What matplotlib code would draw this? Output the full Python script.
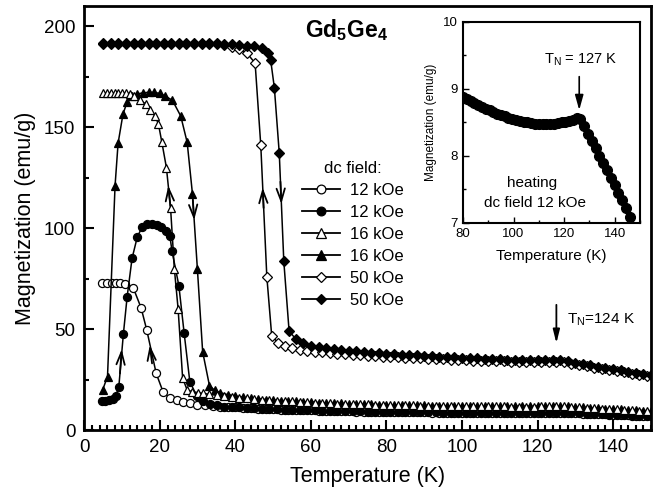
import matplotlib
matplotlib.use('Agg')
import matplotlib.pyplot as plt
from matplotlib.lines import Line2D
from matplotlib.ticker import MultipleLocator

# shared temperature grids for the high-T tails (K)
t_even = [30, 32, 34, 36, 38, 40, 42, 44, 46, 48, 50, 52, 54, 56, 58, 60, 62, 64, 66, 68,
          70, 72, 74, 76, 78, 80, 82, 84, 86, 88, 90, 92, 94, 96, 98, 100, 102, 104, 106, 108,
          110, 112, 114, 116, 118, 120, 122, 124, 126, 128, 130, 132, 134, 136, 138, 140, 142,
          144, 146, 148, 150]
t_odd = [29, 31, 33, 35, 37, 39, 41, 43, 45, 47, 49, 51, 53, 55, 57, 59, 61, 63, 65, 67,
         69, 71, 73, 75, 77, 79, 81, 83, 85, 87, 89, 91, 93, 95, 97, 99, 101, 103, 105, 107,
         109, 111, 113, 115, 117, 119, 121, 123, 125, 127, 129, 131, 133, 135, 137, 139, 141,
         143, 145, 147, 149]

# 12 kOe, open circles
t_c12o = [4.6, 5.9, 7.2, 8.4, 9.5, 10.8, 12.9, 15.0, 16.5, 19.0, 20.8, 22.6, 24.4, 26.1,
          27.9, 29.7] + t_even[1:]
m_c12o = [73, 73, 73, 73, 73, 72.5, 70.5, 60.5, 49.5, 28, 19, 15.8, 15, 14, 13.3, 12.6,
          12.15, 11.85, 11.6, 11.4, 11.2, 11.0, 10.8, 10.6, 10.45, 10.3, 10.15, 10.0, 9.9, 9.8,
          9.7, 9.6, 9.5, 9.4, 9.3, 9.22, 9.15, 9.08, 9.01, 8.95, 8.88,
          8.84, 8.79, 8.75, 8.71, 8.68, 8.65, 8.62, 8.59, 8.57, 8.54, 8.52, 8.51, 8.5, 8.49,
          8.48, 8.48, 8.48, 8.48, 8.49, 8.5, 8.52, 8.54, 8.56,
          8.44, 8.3, 8.15, 8.0, 7.86, 7.71, 7.56, 7.41, 7.26, 7.11, 6.96, 6.81]

# 12 kOe, filled circles
t_c12f = [4.6, 5.5, 6.5, 7.5, 8.3, 9.1, 10.3, 11.3, 12.6, 14.0, 15.3, 16.6, 17.9, 19.2, 20.4,
          21.5, 22.6, 23.2, 25.0, 26.4, 27.9, 29.7, 31.5, 33.3, 35] + t_odd[4:]
m_c12f = [14.5, 14.5, 15, 15.5, 17, 21.5, 47.5, 66, 85, 95.7, 100.6, 101.8, 102, 101.7, 100.5,
          98.4, 96.3, 88.5, 71.5, 48, 24, 17, 14.3, 13.0, 12.2,
          11.6, 11.4, 11.2, 11.0, 10.8, 10.6, 10.45, 10.3, 10.15, 10.05,
          9.95, 9.85, 9.75, 9.65, 9.55, 9.45, 9.35, 9.28, 9.2, 9.12,
          9.05, 8.98, 8.92, 8.87, 8.82, 8.78, 8.74, 8.71, 8.68, 8.65,
          8.62, 8.59, 8.57, 8.55, 8.54, 8.53, 8.52, 8.52, 8.52, 8.52,
          8.53, 8.54, 8.55, 8.57, 8.6, 8.52, 8.38, 8.23, 8.08, 7.93,
          7.78, 7.63, 7.48, 7.33, 7.18, 7.03, 6.88]

# 16 kOe, open triangles
t_t16o = [5, 6, 7, 8, 9, 10, 11, 12, 13.2, 14.7, 16.2, 17.4, 18.7, 19.6, 20.5, 21.7, 22.8,
          23.8, 24.8, 26.0, 27.2, 28.5, 30, 31.5, 33, 35] + t_odd[4:]
m_t16o = [167, 167, 167, 167, 167, 167, 167, 166.5, 165.5, 163.5, 161.5, 158.5, 155.5, 151.5,
          142.5, 130, 110, 80, 60, 25.7, 19.8, 19.0, 18.5, 18.1, 17.7, 17.2,
          16.8, 16.4, 16.0, 15.7, 15.4, 15.1, 14.8, 14.6, 14.4, 14.2,
          14.0, 13.8, 13.6, 13.4, 13.25, 13.1, 13.0, 12.9, 12.8, 12.7,
          12.6, 12.5, 12.4, 12.3, 12.25, 12.2, 12.1, 12.05, 12.0, 11.95,
          11.9, 11.85, 11.8, 11.75, 11.7, 11.7, 11.65, 11.65, 11.6, 11.6,
          11.6, 11.6, 11.65, 11.7, 11.75, 11.65, 11.45, 11.25, 11.05, 10.85,
          10.65, 10.45, 10.25, 10.05, 9.85, 9.65, 9.45]

# 16 kOe, filled triangles
t_t16f = [4.8, 6.1, 8.1, 8.9, 10.2, 11.3, 12.6, 14.0, 15.5, 17.0, 18.5, 20.0, 21.3, 23.3,
          25.5, 27.2, 28.6, 29.9, 31.3, 33.1, 34.5] + t_even[3:]
m_t16f = [19.8, 26.5, 121, 142, 156.5, 162.5, 165.5, 166.5, 167, 167.3, 167.2, 166.7, 165.5,
          163.3, 155.5, 142.5, 117, 80, 38.8, 22, 19.6,
          18.4, 17.5, 16.8, 16.2, 15.8, 15.4, 15.1, 14.8, 14.6, 14.4,
          14.2, 14.0, 13.8, 13.6, 13.45, 13.3, 13.15, 13.0, 12.9, 12.8,
          12.7, 12.6, 12.5, 12.4, 12.35, 12.3, 12.2, 12.15, 12.1, 12.05,
          12.0, 11.95, 11.9, 11.85, 11.8, 11.8, 11.75, 11.75, 11.7, 11.7,
          11.7, 11.7, 11.75, 11.8, 11.85, 11.85, 11.65, 11.45, 11.25, 11.05,
          10.85, 10.65, 10.45, 10.25, 10.05, 9.85, 9.65, 9.45]

# 50 kOe, open diamonds
t_d50o = [5, 7, 9, 11, 13, 15, 17, 19, 21, 23, 25, 27, 29, 31, 33, 35,
          37, 39, 41, 43, 45.2, 46.7, 48.3, 49.6, 51.3] + t_odd[12:]
m_d50o = [191.3, 191.3, 191.3, 191.3, 191.3, 191.3, 191.3, 191.3, 191.3, 191.3, 191.3, 191.3,
          191.3, 191.3, 191.3, 191.3,
          190.5, 189.7, 188.6, 186.8, 181.7, 141, 76, 46.5, 43.3,
          41.5, 40.4, 39.7, 39.2, 38.8, 38.4, 38.1, 37.8, 37.5, 37.3,
          37.0, 36.8, 36.6, 36.4, 36.2, 36.0, 35.8, 35.6, 35.5, 35.3,
          35.1, 35.0, 34.8, 34.7, 34.5, 34.4, 34.3, 34.2, 34.1, 34.0,
          33.9, 33.8, 33.8, 33.7, 33.7, 33.8, 33.8, 33.5, 32.9, 32.2,
          31.6, 30.9, 30.3, 29.7, 29.1, 28.5, 27.9, 27.4, 26.9]

# 50 kOe, filled diamonds
t_d50f = [5, 7, 9, 11, 13, 15, 17, 19, 21, 23, 25, 27, 29, 31, 33, 35,
          37, 39, 41, 43, 45, 47, 48.6, 49.3, 50.3, 51.6, 52.8, 54.2] + t_even[13:]
m_d50f = [191.5, 191.5, 191.5, 191.5, 191.5, 191.5, 191.5, 191.5, 191.5, 191.5, 191.5, 191.5,
          191.5, 191.5, 191.5, 191.5,
          191.2, 191.0, 190.7, 190.4, 190.0, 189.2, 186.6, 183.5, 169.5, 137, 83.5, 49,
          45.0, 43.0, 41.8, 41.0, 40.4, 39.9, 39.5, 39.2, 38.9, 38.6,
          38.3, 38.0, 37.8, 37.6, 37.4, 37.2, 37.0, 36.8, 36.6, 36.4,
          36.2, 36.0, 35.8, 35.6, 35.5, 35.3, 35.2, 35.0, 34.9, 34.8,
          34.7, 34.6, 34.6, 34.6, 34.7, 34.6, 34.0, 33.3, 32.6, 32.0,
          31.3, 30.7, 30.1, 29.5, 28.9, 28.3, 27.8, 27.2]

# inset: heating in 12 kOe
t_in = [80, 81.5, 83, 84.5, 86, 87.5, 89, 90.5, 92, 93.5, 95, 96.5, 98, 99.5, 101, 102.5,
        104, 105.5, 107, 108.5, 110, 111.5, 113, 114.5, 116, 117.5, 119, 120.5, 122, 123.5,
        125, 126.5, 128, 129.5, 131, 132.5, 134, 135.5, 137, 138.5, 140, 141.5, 143, 144.5, 146]
m_in = [8.88, 8.85, 8.82, 8.79, 8.76, 8.73, 8.70, 8.68, 8.65, 8.63,
        8.61, 8.59, 8.57, 8.55, 8.53, 8.52, 8.51, 8.50, 8.49, 8.48,
        8.48, 8.48, 8.48, 8.48, 8.48, 8.49, 8.50, 8.51, 8.52, 8.54,
        8.56, 8.55, 8.44, 8.33, 8.22, 8.11, 8.00, 7.89, 7.78, 7.67,
        7.56, 7.45, 7.34, 7.22, 7.08]

labels = ['12 kOe', '12 kOe', '16 kOe', '16 kOe', '50 kOe', '50 kOe']

plt.rcParams['font.family'] = ['Liberation Sans', 'DejaVu Sans']
plt.rcParams['mathtext.fontset'] = 'custom'
plt.rcParams['mathtext.rm'] = 'Liberation Sans'
plt.rcParams['mathtext.bf'] = 'Liberation Sans:bold'
plt.rcParams['mathtext.default'] = 'regular'

fig = plt.figure(figsize=(6.6, 4.97), dpi=100)
ax = fig.add_axes([0.128, 0.1348, 0.858, 0.853])

# (x, y, marker, size, face)
series = [
    (t_c12o, m_c12o, 'o', 5.8, 'white'),
    (t_c12f, m_c12f, 'o', 5.8, 'black'),
    (t_t16f, m_t16f, '^', 6.3, 'black'),
    (t_t16o, m_t16o, '^', 6.3, 'white'),
    (t_d50o, m_d50o, 'D', 5.0, 'white'),
    (t_d50f, m_d50f, 'D', 5.0, 'black'),
]
for x, y, mk, ms, fc in series:
    ax.plot(x, y, color='black', lw=1.1, marker=mk, ms=ms, mfc=fc, mec='black', mew=0.9)

ax.set_xlim(0, 150)
ax.set_ylim(0, 210)
ax.xaxis.set_major_locator(MultipleLocator(20))
ax.xaxis.set_minor_locator(MultipleLocator(2))
ax.yaxis.set_major_locator(MultipleLocator(50))
ax.yaxis.set_minor_locator(MultipleLocator(25))
ax.tick_params(which='both', direction='in', top=False, right=False, width=1.5,
               labelsize=13.5, pad=6.5)
ax.tick_params(which='major', length=7)
ax.tick_params(which='minor', length=3.5)
for sp in ax.spines.values():
    sp.set_linewidth(2)
ax.set_xlabel('Temperature (K)', fontsize=15.5, labelpad=7)
ax.set_ylabel('Magnetization (emu/g)', fontsize=15.5, labelpad=6)

# legend
handles = []
for (x, y, mk, ms, fc), lab in zip([series[0], series[1], series[3], series[2],
                                    series[4], series[5]], labels):
    handles.append(Line2D([], [], color='black', lw=1.3, marker=mk, ms=ms + 0.5, mfc=fc,
                          mec='black', mew=0.9, label=lab))
leg = ax.legend(handles=handles, title='dc field:', loc='upper left',
                bbox_to_anchor=(0.384, 0.635), frameon=False, fontsize=12,
                title_fontsize=12, handlelength=2.3, handletextpad=0.6,
                labelspacing=0.42, borderpad=0, borderaxespad=0)

ax.text(58.5, 198, r'$\mathbf{Gd_5Ge_4}$', fontsize=16.5, ha='left', va='center')

# direction arrows along the branches
v_arrow = dict(arrowstyle='->,head_length=0.9,head_width=0.3', lw=1.3, color='black',
               shrinkA=0, shrinkB=0)
arrows = [((9.85, 40), (9.4, 28)),
          ((17.3, 42), (17.9, 33)),
          ((22.2, 121), (22.75, 111)),
          ((29.05, 104), (28.7, 114)),
          ((47.2, 120), (47.45, 110)),
          ((52.15, 112), (51.9, 123))]
for tip, tail in arrows:
    ax.annotate('', xy=tip, xytext=tail, arrowprops=v_arrow)

ax.annotate('', xy=(125, 43), xytext=(125, 62),
            arrowprops=dict(arrowstyle='-|>,head_length=0.8,head_width=0.2', lw=1.3,
                            color='black', shrinkA=0, shrinkB=0))
ax.text(127.7, 54.6, r'T$_N$=124 K', fontsize=11, ha='left', va='center')

# inset
axin = fig.add_axes([0.7015, 0.5519, 0.268, 0.4044])
axin.plot(t_in, m_in, color='black', lw=0.8, marker='o', ms=7, mfc='black', mec='black')
axin.set_xlim(80, 150)
axin.set_ylim(7, 10)
axin.xaxis.set_major_locator(MultipleLocator(20))
axin.xaxis.set_minor_locator(MultipleLocator(10))
axin.yaxis.set_major_locator(MultipleLocator(1))
axin.yaxis.set_minor_locator(MultipleLocator(0.5))
axin.tick_params(which='both', direction='in', top=False, right=False, width=1,
                 labelsize=9.5, pad=4)
axin.tick_params(which='major', length=4)
axin.tick_params(which='minor', length=2.5)
for sp in axin.spines.values():
    sp.set_linewidth(1.5)
axin.set_xlabel('Temperature (K)', fontsize=11, labelpad=6)
axin.set_ylabel('Magnetization (emu/g)', fontsize=8.5, labelpad=4)
axin.annotate('', xy=(126, 8.68), xytext=(126, 9.18),
              arrowprops=dict(arrowstyle='-|>,head_length=0.9,head_width=0.25', lw=1.2,
                              color='black', shrinkA=0, shrinkB=0))
axin.text(126.7, 9.43, r'T$_N$ = 127 K', fontsize=10.5, ha='center', va='center')
axin.text(107.5, 7.6, 'heating', fontsize=11, ha='center', va='center')
axin.text(108.5, 7.29, 'dc field 12 kOe', fontsize=11, ha='center', va='center')

fig.savefig('out.png', dpi=100)
